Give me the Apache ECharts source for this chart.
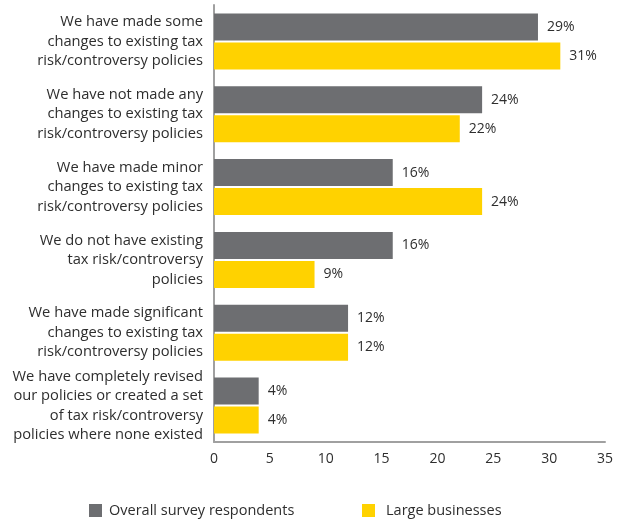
<!DOCTYPE html>
<html>
<head>
<meta charset="utf-8">
<script src="https://cdn.jsdelivr.net/npm/echarts@6/dist/echarts.min.js"></script>
<style>
  html, body { margin: 0; padding: 0; background: #ffffff; }
  #chart { width: 625px; height: 522px; }
</style>
</head>
<body>
<div id="chart"></div>
<script>
// Responses about changes to tax risk/controversy policies (percent)
const categories = [
  'We have made some\nchanges to existing tax\nrisk/controversy policies',
  'We have not made any\nchanges to existing tax\nrisk/controversy policies',
  'We have made minor\nchanges to existing tax\nrisk/controversy policies',
  'We do not have existing\ntax risk/controversy\npolicies',
  'We have made significant\nchanges to existing tax\nrisk/controversy policies',
  'We have completely revised\nour policies or created a set\nof tax risk/controversy\npolicies where none existed'
];
const overallRespondents = [29, 24, 16, 16, 12, 4];
const largeBusinesses = [31, 22, 24, 9, 12, 4];
const seriesNames = ['Overall survey respondents', 'Large businesses'];
const xTicks = [0, 5, 10, 15, 20, 25, 30, 35];

const FONT = '"Open Sans", sans-serif';
const TEXT = '#2e2e2e';
const GREY = '#6d6e71';
const YELLOW = '#ffd200';

const chart = echarts.init(document.getElementById('chart'));

const valueLabel = {
  show: true,
  position: 'right',
  distance: 9,
  formatter: '{c}%',
  fontFamily: FONT,
  fontSize: 14,
  color: TEXT
};

chart.setOption({
  animation: false,
  grid: { left: 214, right: 20, top: 5, bottom: 80, containLabel: false },
  legend: [
    {
      data: [seriesNames[0]],
      left: 89, top: 503, padding: 0,
      itemWidth: 13, itemHeight: 13, itemGap: 0,
      icon: 'rect',
      textStyle: { fontFamily: FONT, fontSize: 14.5, color: TEXT, padding: [0, 0, 0, 2] }
    },
    {
      data: [seriesNames[1]],
      left: 362, top: 503, padding: 0,
      itemWidth: 13, itemHeight: 13, itemGap: 0,
      icon: 'rect',
      textStyle: { fontFamily: FONT, fontSize: 14.5, color: TEXT, padding: [0, 0, 0, 6] }
    }
  ],
  xAxis: {
    type: 'value',
    min: xTicks[0],
    max: xTicks[xTicks.length - 1],
    interval: 5,
    axisLine: { show: true, lineStyle: { color: '#a0a0a0', width: 2 } },
    axisTick: { show: false },
    splitLine: { show: false },
    axisLabel: { fontFamily: FONT, fontSize: 14, color: TEXT, margin: 10 }
  },
  yAxis: {
    type: 'category',
    data: categories,
    inverse: true,
    axisLine: { show: true, lineStyle: { color: '#a0a0a0', width: 2 } },
    axisTick: { show: false },
    axisLabel: {
      fontFamily: FONT, fontSize: 14.7, color: TEXT,
      lineHeight: 19.5, align: 'right', margin: 11
    }
  },
  series: [
    {
      name: seriesNames[0],
      type: 'bar',
      data: overallRespondents,
      barWidth: 27,
      barGap: '7.5%',
      itemStyle: { color: GREY },
      label: valueLabel
    },
    {
      name: seriesNames[1],
      type: 'bar',
      data: largeBusinesses,
      barWidth: 27,
      barGap: '7.5%',
      itemStyle: { color: YELLOW },
      label: valueLabel
    }
  ]
});
</script>
</body>
</html>
